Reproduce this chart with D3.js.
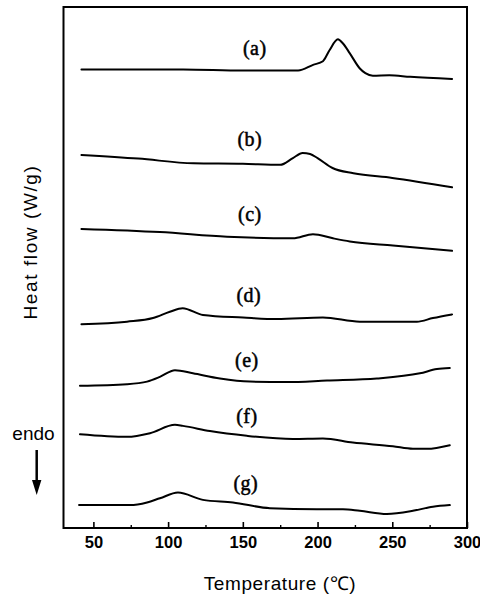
<!DOCTYPE html>
<html>
<head>
<meta charset="utf-8">
<script src="https://cdn.jsdelivr.net/npm/d3@7"></script>
<style>
  html, body { margin: 0; padding: 0; background: #fff; }
  svg { display: block; }
</style>
</head>
<body>
<svg id="chart" width="480" height="596"></svg>
<script>
// ---- data (temperature in °C, heat flow in arbitrary offset units) ----
const seriesNames = ["(a)", "(b)", "(c)", "(d)", "(e)", "(f)", "(g)"];

const curveA = [[42,88.0],[110,88.0],[150,87.8],[187,87.8],[197,88.9],[203.6,89.6],[208,91.7],[213.6,93.8],[217,93.0],[221.6,91.1],[228.3,88.2],[232,87.3],[237,86.8],[248,86.9],[262,86.6],[290,86.2]];
const curveB = [[42,71.6],[80,70.9],[117,70.0],[150,69.9],[175,69.7],[183.5,71.0],[190,72.0],[195,71.8],[200,71.0],[210,69.1],[224,68.1],[250,67.2],[290,65.4]];
const curveC = [[42,57.4],[94.5,56.8],[139.4,55.9],[183.5,55.6],[196.9,56.4],[210.3,55.6],[221.6,55.0],[250.4,54.2],[290,53.2]];
const curveD = [[42,39.1],[72.5,39.6],[89.9,40.3],[101.2,41.5],[109.7,42.2],[123.3,40.9],[150.1,40.4],[172.8,40.1],[203.6,40.4],[228.3,39.6],[266.5,39.6],[277.2,40.3],[290,41.0]];
const curveE = [[41,27.3],[72.5,27.6],[85.9,28.1],[94.5,29.0],[104.6,30.3],[116.6,29.7],[134.7,28.7],[154.7,28.1],[179.5,28.0],[206.3,28.3],[239.7,28.7],[268.5,29.7],[279.9,30.5],[288.5,30.7]];
const curveF = [[41,18.0],[72.5,17.5],[87.9,18.2],[104.6,19.8],[109.9,19.6],[128,18.6],[152.7,17.7],[183.5,17.1],[203.6,17.2],[223.6,16.4],[250.4,15.7],[263.8,15.2],[273.2,15.2],[288.5,15.9]];
const curveG = [[40.4,4.4],[74.5,4.4],[85.9,4.9],[94.5,5.7],[106.6,6.8],[123.3,5.4],[143.4,4.9],[168.1,3.8],[199.6,3.6],[217,3.6],[228.3,3.3],[246.4,2.7],[263.8,3.3],[277.2,4.1],[288.5,4.4]];
const curves = [curveA, curveB, curveC, curveD, curveE, curveF, curveG];

// label anchor positions (temperature, heat flow units)
const labelT = [158, 154.7, 154.7, 154, 152.7, 152.7, 152];
const labelV = [90.8, 73.3, 59.0, 43.4, 30.9, 20.2, 7.3];

const xTicks = [50, 100, 150, 200, 250, 300];
const xMinorTicks = [75, 125, 175, 225, 275];
const xDomain = [30, 300];
const yDomain = [0, 100];

// ---- drawing ----
const svg = d3.select("#chart");
const x = d3.scaleLinear().domain(xDomain).range([63.5, 467]);
const y = d3.scaleLinear().domain(yDomain).range([528, 7]);

// frame
svg.append("rect")
  .attr("x", x(xDomain[0])).attr("y", y(yDomain[1]))
  .attr("width", x(xDomain[1]) - x(xDomain[0]))
  .attr("height", y(yDomain[0]) - y(yDomain[1]))
  .attr("fill", "none").attr("stroke", "#000").attr("stroke-width", 2);

// bottom axis (major)
const axis = svg.append("g")
  .attr("transform", `translate(0,${y(yDomain[0])})`)
  .call(d3.axisBottom(x).tickValues(xTicks).tickSizeInner(-6).tickSizeOuter(0).tickPadding(8));
axis.select(".domain").remove();
axis.selectAll("line").attr("stroke", "#000").attr("stroke-width", 1.6);
axis.selectAll("text")
  .attr("font-family", "'Liberation Sans', Arial, sans-serif")
  .attr("font-size", 16.5).attr("font-weight", "bold").attr("fill", "#000");

// minor ticks
const minor = svg.append("g")
  .attr("transform", `translate(0,${y(yDomain[0])})`)
  .call(d3.axisBottom(x).tickValues(xMinorTicks).tickSizeInner(-3).tickSizeOuter(0).tickFormat(""));
minor.select(".domain").remove();
minor.selectAll("line").attr("stroke", "#000").attr("stroke-width", 1.4);

// curves
const line = d3.line().x(d => x(d[0])).y(d => y(d[1])).curve(d3.curveMonotoneX);
svg.append("g").selectAll("path")
  .data(curves).join("path")
  .attr("d", line)
  .attr("fill", "none").attr("stroke", "#000").attr("stroke-width", 2)
  .attr("stroke-linejoin", "round").attr("stroke-linecap", "round");

// curve labels
svg.append("g").selectAll("text")
  .data(seriesNames).join("text")
  .attr("x", (d, i) => x(labelT[i]))
  .attr("y", (d, i) => y(labelV[i]))
  .attr("text-anchor", "middle")
  .attr("font-family", "'Liberation Serif', 'Times New Roman', serif")
  .attr("font-size", 20).attr("letter-spacing", 0.5)
  .attr("stroke", "#000").attr("stroke-width", 0.5)
  .attr("fill", "#000")
  .text(d => d);

// axis titles
svg.append("text")
  .attr("x", 280).attr("y", 590)
  .attr("text-anchor", "middle")
  .attr("font-family", "'Liberation Sans', Arial, sans-serif")
  .attr("font-size", 19).attr("letter-spacing", 0.6)
  .attr("fill", "#000")
  .text("Temperature (\u2103)");

svg.append("text")
  .attr("transform", "translate(36.5,242) rotate(-90)")
  .attr("text-anchor", "middle")
  .attr("font-family", "'Liberation Sans', Arial, sans-serif")
  .attr("font-size", 19).attr("letter-spacing", 1.6)
  .attr("fill", "#000")
  .text("Heat flow (W/g)");

// endo annotation with arrow
svg.append("text")
  .attr("x", 33.5).attr("y", 440)
  .attr("text-anchor", "middle")
  .attr("font-family", "'Liberation Sans', Arial, sans-serif")
  .attr("font-size", 19)
  .attr("fill", "#000")
  .text("endo");
svg.append("line")
  .attr("x1", 36.7).attr("y1", 450).attr("x2", 36.7).attr("y2", 484)
  .attr("stroke", "#000").attr("stroke-width", 2.5);
svg.append("path")
  .attr("d", "M32,480 L41.4,480 L36.7,495 Z")
  .attr("fill", "#000");
</script>
</body>
</html>
